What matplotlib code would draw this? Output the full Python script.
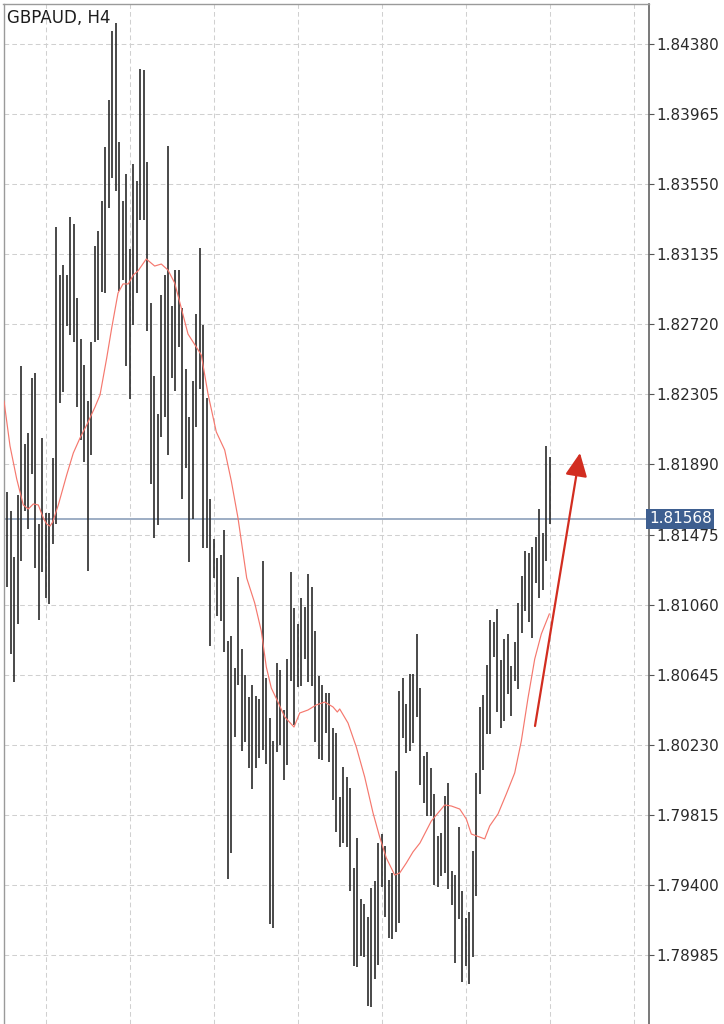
import numpy as np
import matplotlib
matplotlib.use("Agg")
import matplotlib.pyplot as plt

# ---------------- data ----------------
symbol_title = "GBPAUD, H4"

bar_high = [1.81727, 1.81614, 1.81342, 1.81709, 1.82474, 1.82011, 1.82077, 1.82403, 1.82432, 1.81537,
            1.82047, 1.81603, 1.81603, 1.81928, 1.83297, 1.83013, 1.83072, 1.83013, 1.83357, 1.83315,
            1.82877, 1.82634, 1.82480, 1.82266, 1.82616, 1.83185, 1.83274, 1.83451, 1.83771, 1.84050,
            1.84459, 1.84506, 1.83801, 1.83451, 1.83611, 1.83167, 1.83671, 1.83570, 1.84234, 1.84228,
            1.83683, 1.82847, 1.82414, 1.82189, 1.82894, 1.83013, 1.83777, 1.82829, 1.83042, 1.83042,
            1.82817, 1.82456, 1.82171, 1.82385, 1.82782, 1.83173, 1.82717, 1.82284, 1.81685, 1.81448,
            1.81336, 1.81354, 1.81502, 1.80844, 1.80874, 1.80684, 1.81223, 1.80797, 1.80642, 1.80512,
            1.80583, 1.80518, 1.80500, 1.81318, 1.80625, 1.80388, 1.80251, 1.80714, 1.80672, 1.80435,
            1.80737, 1.81253, 1.81040, 1.80945, 1.81099, 1.81045, 1.81241, 1.81164, 1.80903, 1.80637,
            1.80583, 1.80536, 1.80536, 1.80328, 1.80299, 1.79920, 1.80097, 1.80038, 1.79973, 1.79499,
            1.79677, 1.79315, 1.79285, 1.79208, 1.79380, 1.79422, 1.79647, 1.79700, 1.79629, 1.79428,
            1.79469, 1.80074, 1.80548, 1.80625, 1.80471, 1.80648, 1.80648, 1.80885, 1.80565, 1.80162,
            1.80186, 1.80091, 1.79937, 1.79688, 1.79706, 1.79925, 1.80002, 1.79481, 1.79457, 1.79742,
            1.79362, 1.79202, 1.79238, 1.79600, 1.80062, 1.80453, 1.80524, 1.80702, 1.80968, 1.80957,
            1.81034, 1.80731, 1.80856, 1.80885, 1.80696, 1.80838, 1.81069, 1.81229, 1.81377, 1.81365,
            1.81401, 1.81460, 1.81626, 1.81484, 1.82000, 1.81934]

bar_low = [1.81164, 1.80767, 1.80601, 1.80945, 1.81318, 1.81614, 1.81508, 1.81834, 1.81277, 1.80968,
           1.81253, 1.81099, 1.81063, 1.81419, 1.81537, 1.82254, 1.82320, 1.82711, 1.82657, 1.82616,
           1.82231, 1.82035, 1.81905, 1.81259, 1.81946, 1.82616, 1.82628, 1.82912, 1.82906, 1.83410,
           1.83588, 1.83511, 1.82918, 1.82983, 1.82474, 1.82278, 1.82717, 1.82906, 1.83339, 1.83339,
           1.82681, 1.81774, 1.81454, 1.81531, 1.82053, 1.82171, 1.81946, 1.82403, 1.82325, 1.82586,
           1.81685, 1.81869, 1.81312, 1.81567, 1.82112, 1.82337, 1.81395, 1.81395, 1.80814, 1.81217,
           1.80992, 1.80962, 1.80779, 1.79434, 1.79588, 1.80275, 1.80583, 1.80192, 1.80245, 1.80091,
           1.79967, 1.80091, 1.80151, 1.80198, 1.80115, 1.79167, 1.79143, 1.80186, 1.80228, 1.80020,
           1.80109, 1.80607, 1.80346, 1.80571, 1.80577, 1.80737, 1.80601, 1.80577, 1.80245, 1.80145,
           1.80139, 1.80299, 1.80127, 1.79902, 1.79712, 1.79623, 1.79647, 1.79623, 1.79362, 1.78918,
           1.78912, 1.78977, 1.78971, 1.78681, 1.78675, 1.78841, 1.78924, 1.79386, 1.79208, 1.79084,
           1.79078, 1.79120, 1.79173, 1.80269, 1.80180, 1.80192, 1.80240, 1.80394, 1.79991, 1.79884,
           1.79807, 1.79807, 1.79398, 1.79386, 1.79451, 1.79469, 1.79374, 1.79280, 1.78936, 1.79197,
           1.78823, 1.78918, 1.78811, 1.78971, 1.79333, 1.79937, 1.80080, 1.80293, 1.80293, 1.80749,
           1.80423, 1.80328, 1.80370, 1.80530, 1.80400, 1.80607, 1.80560, 1.80891, 1.81022, 1.80957,
           1.80862, 1.81188, 1.81099, 1.81146, 1.81318, 1.81537]

ma_pos = [-0.94, 0.77, 2.69, 4.57, 6.0, 7.43, 8.86, 10.29, 11.26, 12.2, 12.97, 14.57, 16.97, 18.86,
          20.77, 22.69, 25.06, 26.49, 28.4, 29.83, 31.63, 33.06, 34.57, 36.0, 37.34, 39.71, 42.11,
          44.0, 45.91, 47.83, 49.71, 51.63, 54.0, 55.43, 57.34, 59.71, 62.11, 64.0, 65.91, 68.4,
          70.69, 72.57, 74.0, 75.43, 77.34, 79.26, 81.91, 83.54, 85.91, 88.29, 90.69, 93.06, 94.29,
          94.97, 97.34, 99.71, 102.11, 104.49, 106.4, 108.29, 110.69, 112.11, 114.0, 115.91, 117.91,
          121.14, 124.97, 126.86, 129.26, 131.14, 132.57, 134.97, 136.4, 137.83, 140.2, 142.57,
          144.97, 146.86, 148.77, 150.69, 152.57, 154.86]
ma_val = [1.82266, 1.82000, 1.81804, 1.81650, 1.81626, 1.81656, 1.81650, 1.81573, 1.81537, 1.81525,
          1.81549, 1.81650, 1.81828, 1.81958, 1.82047, 1.82124, 1.82231, 1.82302, 1.82521, 1.82699,
          1.82906, 1.82960, 1.82960, 1.83013, 1.83037, 1.83108, 1.83066, 1.83078, 1.83042, 1.82965,
          1.82817, 1.82663, 1.82586, 1.82539, 1.82308, 1.82083, 1.81976, 1.81792, 1.81573, 1.81217,
          1.81069, 1.80903, 1.80690, 1.80565, 1.80482, 1.80394, 1.80334, 1.80417, 1.80435, 1.80465,
          1.80482, 1.80453, 1.80423, 1.80441, 1.80358, 1.80216, 1.80038, 1.79825, 1.79682, 1.79558,
          1.79457, 1.79469, 1.79528, 1.79594, 1.79647, 1.79777, 1.79872, 1.79866, 1.79848, 1.79789,
          1.79700, 1.79682, 1.79671, 1.79748, 1.79819, 1.79937, 1.80062, 1.80251, 1.80506, 1.80737,
          1.80885, 1.81004]

price_ticks = [1.78985, 1.79400, 1.79815, 1.80230, 1.80645, 1.81060, 1.81475,
               1.81890, 1.82305, 1.82720, 1.83135, 1.83550, 1.83965, 1.84380]
time_grid = [11, 35, 59, 83, 107, 131, 155, 179]
current_price = 1.81568
arrow_start = (150.77, 1.80340)
arrow_end = (163.63, 1.81958)

# ---------------- figure ----------------
W, H = 724, 1024
fig = plt.figure(figsize=(W / 100, H / 100), dpi=100)
ax = fig.add_axes([3.5 / W, 0.0, (649 - 3.5) / W, (H - 3.5) / H])

ax.set_xlim(-1.086, 183.34)
ax.set_ylim(1.78574, 1.84622)

dash = (0, (4.5, 3.0))
for p in price_ticks:
    ax.axhline(p, color="#d0d0d0", lw=0.75, linestyle=dash, zorder=0)
for t in time_grid:
    ax.axvline(t, color="#d0d0d0", lw=0.75, linestyle=dash, zorder=0)

x = np.arange(len(bar_high))
ax.vlines(x, bar_low, bar_high, color="#2a2a2a", lw=1.2, zorder=3)

ax.plot(ma_pos, ma_val, color="#f5786e", lw=0.85, zorder=4, solid_joinstyle="round")

ax.axhline(current_price, color="#8397b4", lw=1.1, zorder=2)

ax.annotate("", xy=arrow_end, xytext=arrow_start,
            arrowprops=dict(arrowstyle="-|>,head_length=0.95,head_width=0.45",
                            color="#d22d20", lw=1.6, mutation_scale=15,
                            shrinkA=0, shrinkB=0),
            zorder=6)

# axes styling
for s in ["left", "top"]:
    ax.spines[s].set_color("#9a9a9a")
    ax.spines[s].set_linewidth(1.0)
ax.spines["right"].set_color("#555555")
ax.spines["right"].set_linewidth(1.1)
ax.spines["bottom"].set_visible(False)

ax.set_xticks([])
ax.yaxis.tick_right()
ax.set_yticks(price_ticks)
ax.set_yticklabels([f"{p:.5f}" for p in price_ticks])
ax.tick_params(axis="y", direction="out", length=3.8, width=0.8, color="#555555",
               pad=1.5, labelsize=11, labelcolor="#2a2a2a")

# current price label box
ax.text(1.0, current_price, f"{current_price:.5f}", transform=ax.get_yaxis_transform(),
        ha="left", va="center", fontsize=11, color="white", zorder=10, clip_on=False,
        bbox=dict(boxstyle="square,pad=0.18", fc="#3e5f90", ec="none"))

fig.text(7 / W, 1 - 22.7 / H, symbol_title, fontsize=12, color="#1e1e1e",
         ha="left", va="baseline")

fig.savefig("out.png", dpi=100)
